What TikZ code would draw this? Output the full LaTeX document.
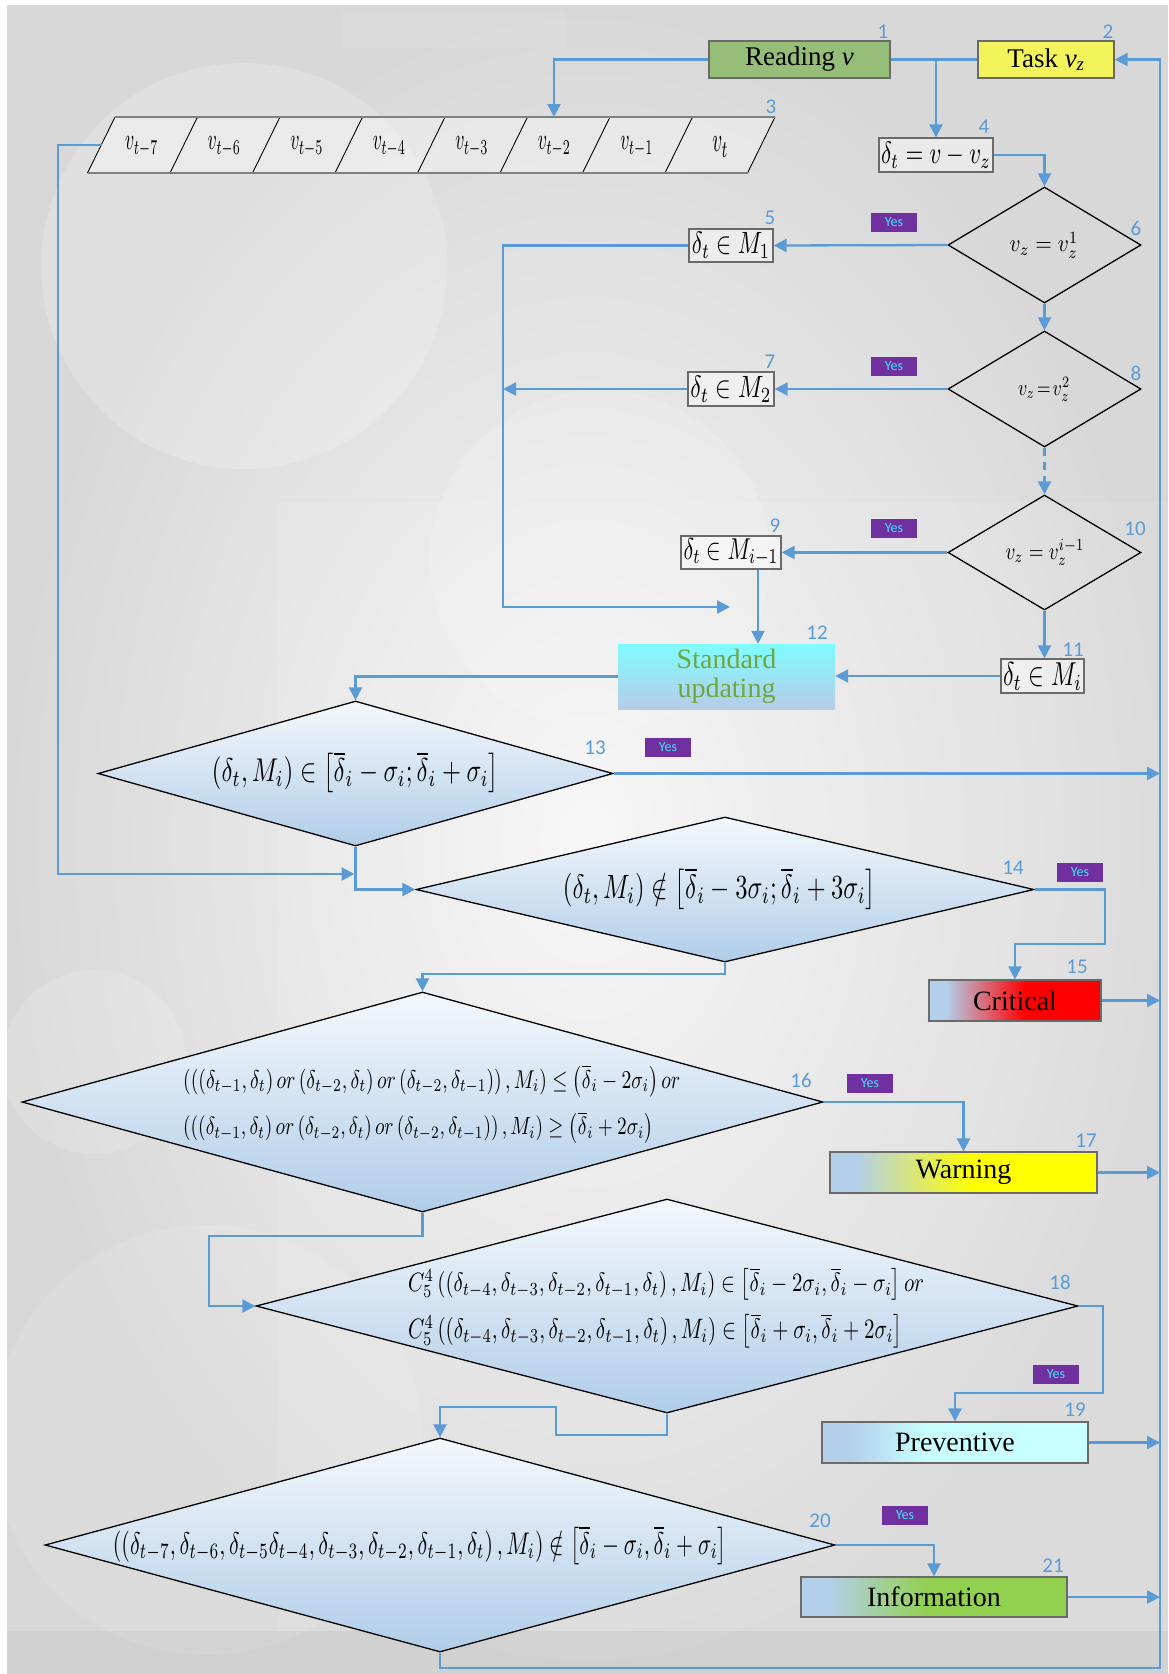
\documentclass[tikz,border=0pt]{standalone}
\usepackage{fontspec}
\setmainfont{Liberation Serif}
\newfontfamily\tagfont{Carlito}
\usepackage{graphicx}
\usetikzlibrary{shapes.geometric,arrows.meta}

\definecolor{flow}{HTML}{5B9BD5}
\definecolor{tagbg}{HTML}{7030A0}
\definecolor{tagfg}{HTML}{3FE6F6}
\definecolor{lblue}{HTML}{B4CFEA}
\definecolor{dtop}{HTML}{F4F8FC}
\definecolor{dbot}{HTML}{B1CDE9}
\definecolor{readg}{HTML}{97BE79}
\definecolor{tasky}{HTML}{F3F35C}
\definecolor{stdtop}{HTML}{7FFCFF}
\definecolor{stdbot}{HTML}{B7CBE8}
\definecolor{stdtxt}{HTML}{6FA640}
\definecolor{boxline}{HTML}{6A6A6A}
\definecolor{palecyan}{HTML}{C8FFFF}
\definecolor{infogreen}{HTML}{92D050}
\definecolor{bglight}{HTML}{F6F6F6}
\definecolor{bgdark}{HTML}{D8D8D8}

% left-to-right fills of the four alarm levels
\pgfdeclarehorizontalshading{critshade}{100bp}{color(0bp)=(lblue); color(30bp)=(lblue); color(53bp)=(red); color(100bp)=(red)}
\pgfdeclarehorizontalshading{warnshade}{100bp}{color(0bp)=(lblue); color(30bp)=(lblue); color(52bp)=(yellow); color(100bp)=(yellow)}
\pgfdeclarehorizontalshading{prevshade}{100bp}{color(0bp)=(lblue); color(30bp)=(lblue); color(45bp)=(palecyan); color(100bp)=(palecyan)}
\pgfdeclarehorizontalshading{infoshade}{100bp}{color(0bp)=(lblue); color(30bp)=(lblue); color(49bp)=(infogreen); color(100bp)=(infogreen)}

\newcommand\fsz[1]{\fontsize{#1}{#1}\selectfont}
% formula squeezed to a given width and total height
\newcommand\fitm[3]{\resizebox*{#1pt}{#2pt}{$#3$}}

\begin{document}
\begin{tikzpicture}[x=1pt,y=-1pt,
  flowline/.style={draw=flow, line width=2.3pt},
  arr/.style={flowline, -{Triangle[length=13pt,width=13pt]}},
  mbox/.style={draw=boxline, line width=1.3pt, fill=white, fill opacity=0.45, text opacity=1,
               inner sep=0pt},
  topbox/.style={draw=boxline, line width=1.4pt, inner sep=0pt, font=\fsz{27},
                 minimum height=37pt},
  cond/.style={shape=diamond, draw=black, line width=1.3pt, inner sep=0pt},
  bigcond/.style={cond, top color=dtop, bottom color=dbot},
  alarm/.style={draw=boxline, line width=1.2pt, inner sep=0pt, font=\fsz{28},
                minimum height=41pt},
  mtext/.style={inner sep=0pt},
  cell/.style={inner sep=0pt},
  ftext/.style={inner sep=0pt},
  num/.style={inner sep=0pt, text=flow, font=\tagfont\fsz{21}},
  tag/.style={fill=tagbg, text=tagfg, font=\tagfont\fsz{14}, inner sep=0pt,
              minimum width=46pt, minimum height=19pt},
]
\useasboundingbox (0,0) rectangle (1168,1674);

% ---------- background ----------
\fill[white] (0,0) rectangle (1168,1674);
\shade[inner color=bglight, outer color=bgdark] (7,5) rectangle (1168,1674);
\fill[white, opacity=0.10] (278,502) rectangle (1168,1631);
\fill[white, opacity=0.18] (244,266) circle (203);
\fill[white, opacity=0.14] (600,560) circle (170);
\fill[white, opacity=0.14] (94,1062) circle (92);
\fill[white, opacity=0.10] (207,1440) circle (215);
\fill[white, opacity=0.07] (341,11) rectangle (565,48);
\fill[black, opacity=0.03] (7,1631) rectangle (1168,1674);

% ---------- top row ----------
\node[topbox, fill=readg, minimum width=181pt] (b1) at (799.5,59.5) {Reading \textit{v}};
\node[topbox, fill=tasky, minimum width=136pt] (b2) at (1046,59.5) {Task \textit{v}\textsubscript{\textit{z}}};

% ---------- buffer of the last eight readings ----------
\fill[white, opacity=0.35] (115,117) -- (775,117) -- (747.5,173) -- (87.5,173) -- cycle;
\foreach \k in {0,...,8}
  \draw[black, line width=0.9pt] (115+82.5*\k,117) -- (87.5+82.5*\k,173);
\draw[gray, line width=1.8pt] (115,117) -- (775,117);
\draw[gray, line width=1.8pt] (87.5,173) -- (747.5,173);
\node[cell] (c7) at (141.75,147) {\fitm{33}{20}{v_{t-7}}};
\node[cell] (c6) at (224.25,147) {\fitm{33}{20}{v_{t-6}}};
\node[cell] (c5) at (306.75,147) {\fitm{33}{20}{v_{t-5}}};
\node[cell] (c4) at (389.25,147) {\fitm{33}{20}{v_{t-4}}};
\node[cell] (c3) at (471.75,147) {\fitm{33}{20}{v_{t-3}}};
\node[cell] (c2) at (554.25,147) {\fitm{33}{20}{v_{t-2}}};
\node[cell] (c1) at (636.75,147) {\fitm{33}{20}{v_{t-1}}};
\node[cell] (c0) at (720.25,147) {\fitm{16}{20}{v_{t}}};
\coordinate (bufT) at (554,117);
\coordinate (bufL) at (101.5,145);

% ---------- deviation and class selection ----------
\node[mbox, minimum width=114pt, minimum height=34pt] (b4) at (936,155) {\fitm{110}{26}{\delta_t=v-v_z}};

\node[cond, minimum width=193pt, minimum height=116pt] (d6) at (1044.5,245) {};
\node[cond, minimum width=193pt, minimum height=116pt] (d8) at (1044.5,389) {};
\node[cond, minimum width=193pt, minimum height=115pt] (d10) at (1044.5,552.5) {};
\node[mtext] (t6) at (1044,245) {\fitm{69}{26}{v_z=v_z^{1}}};
\node[mtext] (t8) at (1044,389) {\fitm{52}{24}{v_z\!=\!v_z^{2}}};
\node[mtext] (t10) at (1045,552) {\fitm{79}{26}{v_z=v_z^{i-1}}};

\node[mbox, minimum width=84pt, minimum height=33pt] (b5) at (731,245.5) {\fitm{78}{26}{\delta_t\in M_1}};
\node[mbox, minimum width=86pt, minimum height=34pt] (b7) at (731,389) {\fitm{81}{26}{\delta_t\in M_2}};
\node[mbox, minimum width=100pt, minimum height=33pt] (b9) at (731,552.5) {\fitm{95}{28}{\delta_t\in M_{i-1}}};
\node[mbox, minimum width=83pt, minimum height=34pt] (b11) at (1042.5,676) {\fitm{79}{28}{\delta_t\in M_i}};

\node[draw=none, top color=stdtop, bottom color=stdbot, minimum width=217pt, minimum height=65pt,
      inner sep=0pt, align=center, text=stdtxt, font=\fontsize{28}{29}\selectfont]
      (b12) at (726.5,676.5) {Standard\\updating};

% ---------- tolerance tests ----------
\node[bigcond, minimum width=515pt, minimum height=145pt] (d13) at (355.5,773.5) {};
\node[ftext] (t13) at (355.5,772.5)
  {\fitm{287}{41}{\left(\delta_t,M_i\right)\in\left[\overline{\delta}_i-\sigma_i;\overline{\delta}_i+\sigma_i\right]}};

\node[bigcond, minimum width=618pt, minimum height=145pt] (d14) at (725,889.5) {};
\node[ftext] (t14) at (719.5,889)
  {\fitm{313}{42}{\left(\delta_t,M_i\right)\notin\left[\overline{\delta}_i-3\sigma_i;\overline{\delta}_i+3\sigma_i\right]}};

\node[bigcond, minimum width=801pt, minimum height=220pt] (d16) at (422.5,1102) {};
\node[ftext, anchor=west] (t16a) at (183,1081)
  {\fitm{497}{32}{\left(\left(\left(\delta_{t-1},\delta_t\right) or \left(\delta_{t-2},\delta_t\right) or \left(\delta_{t-2},\delta_{t-1}\right)\right),M_i\right)\le\left(\overline{\delta}_i-2\sigma_i\right) or}};
\node[ftext, anchor=west] (t16b) at (183,1127.5)
  {\fitm{470}{31}{\left(\left(\left(\delta_{t-1},\delta_t\right) or \left(\delta_{t-2},\delta_t\right) or \left(\delta_{t-2},\delta_{t-1}\right)\right),M_i\right)\ge\left(\overline{\delta}_i+2\sigma_i\right)}};

\node[bigcond, minimum width=822pt, minimum height=214pt] (d18) at (667,1306) {};
\node[ftext, anchor=west] (t18a) at (408,1284)
  {\fitm{516}{33}{C_5^4\left(\left(\delta_{t-4},\delta_{t-3},\delta_{t-2},\delta_{t-1},\delta_t\right),M_i\right)\in\left[\overline{\delta}_i-2\sigma_i,\overline{\delta}_i-\sigma_i\right] or}};
\node[ftext, anchor=west] (t18b) at (408,1331)
  {\fitm{494}{35}{C_5^4\left(\left(\delta_{t-4},\delta_{t-3},\delta_{t-2},\delta_{t-1},\delta_t\right),M_i\right)\in\left[\overline{\delta}_i+\sigma_i,\overline{\delta}_i+2\sigma_i\right]}};

\node[bigcond, minimum width=790pt, minimum height=214pt] (d20) at (440,1545) {};
\node[ftext] (t20) at (420,1545.5)
  {\fitm{614}{39}{\left(\left(\delta_{t-7},\delta_{t-6},\delta_{t-5}\delta_{t-4},\delta_{t-3},\delta_{t-2},\delta_{t-1},\delta_t\right),M_i\right)\notin\left[\overline{\delta}_i-\sigma_i,\overline{\delta}_i+\sigma_i\right]}};

% ---------- alarm levels ----------
\node[alarm, shade, shading=critshade, minimum width=172pt] (b15) at (1015,1000.5) {Critical};
\node[alarm, shade, shading=warnshade, minimum width=267pt] (b17) at (963.5,1172.5) {Warning};
\node[alarm, shade, shading=prevshade, minimum width=266pt] (b19) at (955,1442.5) {Preventive};
\node[alarm, shade, shading=infoshade, minimum width=266pt, minimum height=40pt] (b21) at (934,1597) {Information};

% ---------- step numbers ----------
\node[num] (n1) at (883,32) {1};
\node[num] (n2) at (1108,32) {2};
\node[num] (n3) at (771,107) {3};
\node[num] (n4) at (984,127) {4};
\node[num] (n5) at (770,218) {5};
\node[num] (n6) at (1136,228) {6};
\node[num] (n7) at (770,362) {7};
\node[num] (n8) at (1136,373) {8};
\node[num] (n9) at (775,526) {9};
\node[num] (n10) at (1135,529) {10};
\node[num] (n11) at (1073,650) {11};
\node[num] (n12) at (817,633) {12};
\node[num] (n13) at (595,748) {13};
\node[num] (n14) at (1013,868) {14};
\node[num] (n15) at (1077,967) {15};
\node[num] (n16) at (801,1080) {16};
\node[num] (n17) at (1086,1141) {17};
\node[num] (n18) at (1060,1282) {18};
\node[num] (n19) at (1075,1410) {19};
\node[num] (n20) at (820,1521) {20};
\node[num] (n21) at (1053,1566) {21};

% ---------- "Yes" tags ----------
\node[tag] (y6) at (894,222) {Yes};
\node[tag] (y8) at (894,366.5) {Yes};
\node[tag] (y10) at (894,528.5) {Yes};
\node[tag] (y13) at (668,747.5) {Yes};
\node[tag] (y14) at (1080,872.5) {Yes};
\node[tag] (y16) at (870,1083) {Yes};
\node[tag] (y18) at (1056,1374.5) {Yes};
\node[tag] (y20) at (905,1515) {Yes};

% ---------- routing points ----------
\coordinate (rail) at (1160,0);
\coordinate (bus) at (503,0);
\coordinate (busEnd) at (730,607);
\coordinate (x9) at (758,0);
\coordinate (lft) at (58,0);
\coordinate (join) at (354.5,874);
\coordinate (k14) at (1105,944);
\coordinate (k16) at (209,1236);
\coordinate (k18) at (1103,1393);
\coordinate (k18b) at (556,1435);
\coordinate (k18c) at (556,1407);
\coordinate (bot) at (1160,1668);

% ---------- connectors ----------
\draw[flowline] (b1.east) -- (b2.west);
\draw[arr] (b4.north |- b1.east) -- (b4.north);
\draw[arr] (b1.west) -| (bufT);
\draw[arr] (b4.east) -| (d6.north);
\draw[arr] (d6.south) -- (d8.north);
\draw[arr, dash pattern=on 8pt off 6pt] (d8.south) -- (d10.north);
\draw[arr] (d10.south) -- (d10.south |- b11.north);
\draw[arr] (d6.west) -- (b5.east);
\draw[arr] (d8.west) -- (b7.east);
\draw[arr] (d10.west) -- (b9.east);
\draw[arr] (b11.west) -- (b12.east |- b11.west);
\draw[arr] (b5.west) -| (bus |- busEnd) -- (busEnd);
\draw[arr] (b7.west) -- (bus |- b7.west);
\draw[arr] (x9 |- b9.south) -- (x9 |- b12.north);
\draw[arr] (b12.west) -| (d13.north);
\draw[arr] (d13.east) -- (rail |- d13.east);
\draw[arr] (d13.south) |- (d14.west);
\draw[arr] (bufL) -| (lft |- join) -- (join);
\draw[arr] (d14.east) -| (k14) -| (b15.north);
\draw[arr] (b15.east) -- (rail |- b15.east);
\draw[arr] (d14.south) -- ++(0,11.5) -| (d16.north);
\draw[arr] (d16.east) -| (b17.north);
\draw[arr] (b17.east) -- (rail |- b17.east);
\draw[arr] (d16.south) |- (k16) |- (d18.west);
\draw[arr] (d18.east) -| (k18) -| (b19.north);
\draw[arr] (b19.east) -- (rail |- b19.east);
\draw[arr] (d18.south) |- (k18b) -- (k18c) -| (d20.north);
\draw[arr] (d20.east) -| (b21.north);
\draw[arr] (b21.east) -- (rail |- b21.east);
\draw[arr] (d20.south) |- (bot) |- (b2.east);
\end{tikzpicture}
\end{document}
